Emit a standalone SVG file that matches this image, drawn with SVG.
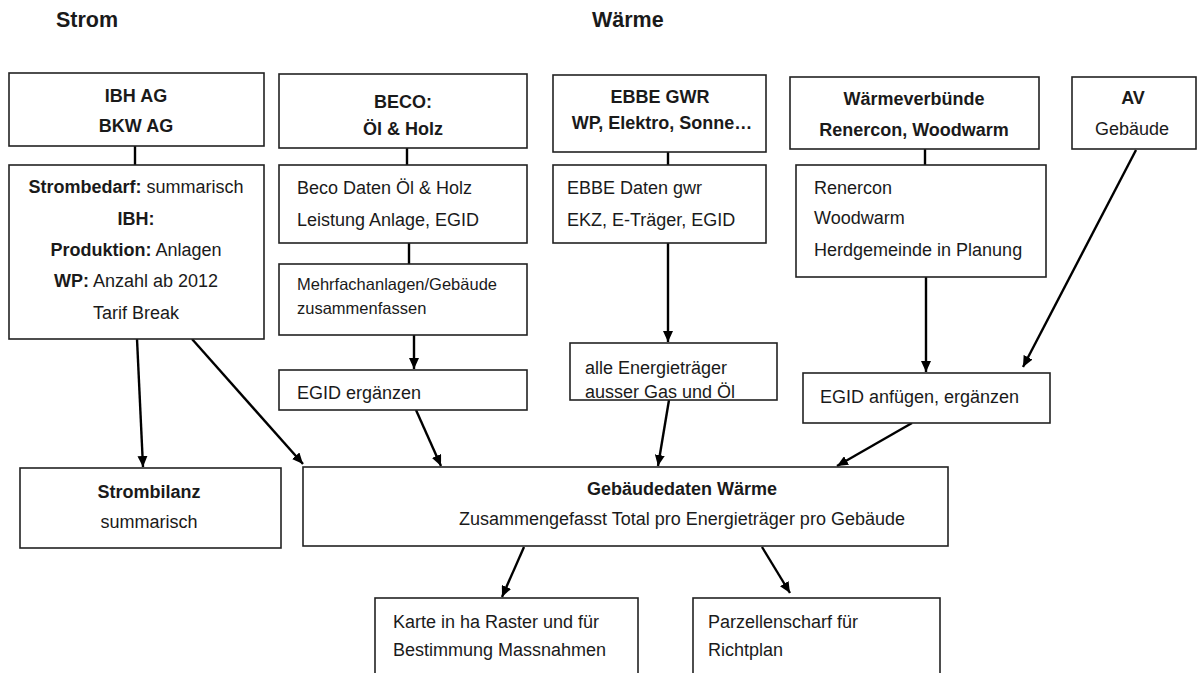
<svg xmlns="http://www.w3.org/2000/svg" width="1198" height="673" viewBox="0 0 1198 673">
<defs>
<marker id="ah" markerWidth="11" markerHeight="10" refX="11" refY="5" orient="auto" markerUnits="userSpaceOnUse"><path d="M0,0 L11,5 L0,10 z" fill="#000"/></marker>
<style>
.box{fill:#fff;stroke:#222;stroke-width:1.6}
.t{font-family:"Liberation Sans",Arial,sans-serif;font-size:18px;fill:#1a1a1a}
.s{font-size:16.5px}
.h{font-size:21.5px}
.b{font-weight:bold}
.c{text-anchor:middle}
.ln{stroke:#000;stroke-width:2.4;fill:none}
.ar{stroke:#000;stroke-width:2.4;fill:none;marker-end:url(#ah)}
</style>
</defs>
<rect width="1198" height="673" fill="#fff"/>
<text class="t h b" x="56" y="27">Strom</text>
<text class="t h b" x="592" y="27">Wärme</text>

<g id="connectors">
<line class="ln" x1="135" y1="146" x2="135" y2="165"/>
<line class="ln" x1="407" y1="148" x2="407" y2="165"/>
<line class="ln" x1="409" y1="243" x2="409" y2="264"/>
<line class="ar" x1="414" y1="335" x2="414" y2="369"/>
<line class="ln" x1="668" y1="152" x2="668" y2="165"/>
<line class="ar" x1="668" y1="243" x2="668" y2="342"/>
<line class="ln" x1="925" y1="149" x2="925" y2="165"/>
<line class="ar" x1="926" y1="277" x2="926" y2="372"/>
<line class="ar" x1="1136" y1="150" x2="1023" y2="367"/>
<line class="ar" x1="137" y1="339" x2="143" y2="467"/>
<line class="ar" x1="192" y1="339" x2="303" y2="464"/>
<line class="ar" x1="416" y1="410" x2="441" y2="466"/>
<line class="ar" x1="669" y1="400" x2="658" y2="466"/>
<line class="ar" x1="912" y1="423" x2="837" y2="466"/>
<line class="ar" x1="524" y1="547" x2="502" y2="597"/>
<line class="ar" x1="762" y1="547" x2="790" y2="593"/>
</g>

<g id="ibh"><rect class="box" x="9" y="73" width="255" height="73"/>
<text class="t b c" x="136" y="102">IBH AG</text>
<text class="t b c" x="136" y="132">BKW AG</text></g>

<g id="strombedarf"><rect class="box" x="9" y="165" width="255" height="174"/>
<text class="t c" x="136" y="193"><tspan class="b">Strombedarf:</tspan> summarisch</text>
<text class="t b c" x="136" y="225">IBH:</text>
<text class="t c" x="136" y="256"><tspan class="b">Produktion:</tspan> Anlagen</text>
<text class="t c" x="136" y="287"><tspan class="b">WP:</tspan> Anzahl ab 2012</text>
<text class="t c" x="136" y="319">Tarif Break</text></g>

<g id="beco"><rect class="box" x="279" y="74" width="248" height="74"/>
<text class="t b c" x="403" y="108">BECO:</text>
<text class="t b c" x="403" y="135">Öl &amp; Holz</text></g>

<g id="becodaten"><rect class="box" x="279" y="165" width="248" height="78"/>
<text class="t" x="297" y="194">Beco Daten Öl &amp; Holz</text>
<text class="t" x="297" y="226">Leistung Anlage, EGID</text></g>

<g id="mehrfach"><rect class="box" x="279" y="264" width="248" height="71"/>
<text class="t s" x="297" y="290">Mehrfachanlagen/Gebäude</text>
<text class="t s" x="297" y="314">zusammenfassen</text></g>

<g id="egiderg"><rect class="box" x="279" y="370" width="248" height="40"/>
<text class="t" x="297" y="399">EGID ergänzen</text></g>

<g id="ebbegwr"><rect class="box" x="553" y="75" width="213" height="77"/>
<text class="t b c" x="660" y="103">EBBE GWR</text>
<text class="t b c" x="662" y="129">WP, Elektro, Sonne…</text></g>

<g id="ebbedaten"><rect class="box" x="553" y="165" width="213" height="78"/>
<text class="t" x="567" y="194">EBBE Daten gwr</text>
<text class="t" x="567" y="226">EKZ, E-Träger, EGID</text></g>

<g id="alle"><rect class="box" x="570" y="343" width="207" height="57"/>
<text class="t" x="585" y="374">alle Energieträger</text>
<text class="t" x="585" y="398">ausser Gas und Öl</text></g>

<g id="waermeverbuende"><rect class="box" x="790" y="77" width="249" height="72"/>
<text class="t b c" x="914" y="105">Wärmeverbünde</text>
<text class="t b c" x="914" y="136">Renercon, Woodwarm</text></g>

<g id="renercon"><rect class="box" x="796" y="165" width="250" height="112"/>
<text class="t" x="814" y="194">Renercon</text>
<text class="t" x="814" y="224">Woodwarm</text>
<text class="t" x="814" y="256">Herdgemeinde in Planung</text></g>

<g id="av"><rect class="box" x="1072" y="77" width="124" height="72"/>
<text class="t b c" x="1133" y="104">AV</text>
<text class="t c" x="1132" y="135">Gebäude</text></g>

<g id="egidanf"><rect class="box" x="803" y="373" width="247" height="50"/>
<text class="t" x="820" y="403">EGID anfügen, ergänzen</text></g>

<g id="strombilanz"><rect class="box" x="20" y="468" width="261" height="80"/>
<text class="t b c" x="149" y="498">Strombilanz</text>
<text class="t c" x="149" y="528">summarisch</text></g>

<g id="gebaeudedaten"><rect class="box" x="303" y="467" width="645" height="79"/>
<text class="t b c" x="682" y="495">Gebäudedaten Wärme</text>
<text class="t c" x="682" y="525">Zusammengefasst Total pro Energieträger pro Gebäude</text></g>

<g id="karte"><rect class="box" x="375" y="598" width="263" height="90"/>
<text class="t" x="393" y="628">Karte in ha Raster und für</text>
<text class="t" x="393" y="656">Bestimmung Massnahmen</text></g>

<g id="parzellen"><rect class="box" x="693" y="598" width="247" height="90"/>
<text class="t" x="708" y="628">Parzellenscharf für</text>
<text class="t" x="708" y="656">Richtplan</text></g>
</svg>
